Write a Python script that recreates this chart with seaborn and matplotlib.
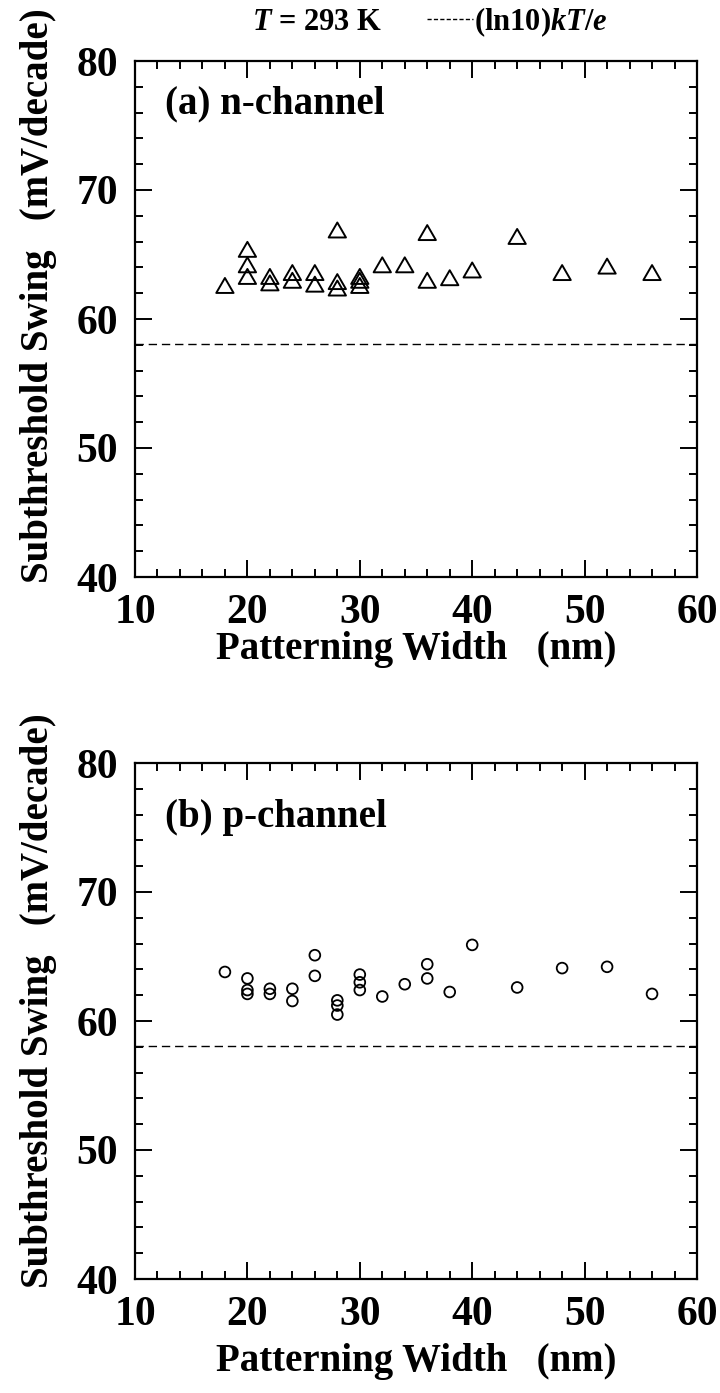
import matplotlib
matplotlib.use("Agg")
import matplotlib.pyplot as plt
import numpy as np
import pandas as pd
import seaborn as sns
from matplotlib.ticker import MultipleLocator
from matplotlib.lines import Line2D
from matplotlib.path import Path

# ---- data ----
n_width = [18, 20, 20, 20, 22, 22, 24, 24, 26, 26, 28, 28, 28, 30, 30, 30,
           32, 34, 36, 36, 38, 40, 44, 48, 52, 56]
n_swing = [62.6, 65.4, 64.2, 63.3, 63.3, 62.8, 63.6, 63.0, 63.6, 62.7, 66.9, 62.9, 62.4,
           63.3, 63.0, 62.6, 64.2, 64.2, 66.7, 63.0, 63.2, 63.8, 66.4, 63.6, 64.1, 63.6]
p_width = [18, 20, 20, 20, 22, 22, 24, 24, 26, 26, 28, 28, 28, 30, 30, 30,
           32, 34, 36, 36, 38, 40, 44, 48, 52, 56]
p_swing = [63.8, 63.3, 62.4, 62.1, 62.5, 62.1, 62.5, 61.55, 65.1, 63.5, 61.6, 61.2, 60.5,
           63.6, 63.0, 62.4, 61.9, 62.85, 64.4, 63.3, 62.25, 65.9, 62.6, 64.1, 64.2, 62.1]
thermal_limit = 58.1  # (ln10)kT/e at T = 293 K, mV/decade
panel_labels = ["(a) n-channel", "(b) p-channel"]
xlabel = "Patterning Width   (nm)"
ylabel = "Subthreshold Swing   (mV/decade)"
x_ticks = [10, 20, 30, 40, 50, 60]
y_ticks = [40, 50, 60, 70, 80]

sns.set_style("ticks")
plt.rcParams["font.family"] = ["Liberation Serif", "DejaVu Serif"]
plt.rcParams["font.weight"] = "bold"
plt.rcParams["text.color"] = "black"
plt.rcParams["axes.labelcolor"] = "black"
plt.rcParams["xtick.color"] = "black"
plt.rcParams["ytick.color"] = "black"
plt.rcParams["mathtext.fontset"] = "custom"
plt.rcParams["mathtext.rm"] = "Liberation Serif:bold"
plt.rcParams["mathtext.it"] = "Liberation Serif:italic:bold"
plt.rcParams["mathtext.bf"] = "Liberation Serif:bold"

FS = 28
TFS = 30
fig = plt.figure(figsize=(7.2, 13.93), dpi=100)
W, H = 720, 1393
ax_top = fig.add_axes([135 / W, 1 - 577 / H, 562 / W, 516 / H])
ax_bot = fig.add_axes([135 / W, 1 - 1279 / H, 562 / W, 516 / H])

tri = Path([(-1, -0.866), (1, -0.866), (0, 0.866), (-1, -0.866)], closed=True)

df_n = pd.DataFrame({"width": n_width, "swing": n_swing})
df_p = pd.DataFrame({"width": p_width, "swing": p_swing})

sns.scatterplot(data=df_n, x="width", y="swing", ax=ax_top, marker=tri, s=155,
                facecolors="none", edgecolor="black", linewidth=1.4, zorder=3)
sns.scatterplot(data=df_p, x="width", y="swing", ax=ax_bot, marker="o", s=60,
                facecolors="none", edgecolor="black", linewidth=1.3, zorder=3)

for ax, lab, ly in [(ax_top, panel_labels[0], 0.917), (ax_bot, panel_labels[1], 0.895)]:
    ax.axhline(thermal_limit, color="black", lw=1.0, ls=(0, (6, 3.5)), zorder=2)
    ax.set_xlim(10, 60)
    ax.set_ylim(40, 80)
    ax.set_xticks(x_ticks)
    ax.set_yticks(y_ticks)
    ax.xaxis.set_minor_locator(MultipleLocator(2))
    ax.yaxis.set_minor_locator(MultipleLocator(2))
    ax.tick_params(which="both", direction="in", top=True, right=True,
                   color="black", labelcolor="black", width=1.4)
    ax.tick_params(which="major", length=12, labelsize=TFS, pad=12)
    ax.tick_params(axis="y", which="major", pad=12)
    ax.tick_params(which="minor", length=6)
    for sp in ax.spines.values():
        sp.set_linewidth(1.6)
        sp.set_color("black")
    ax.set_xlabel(xlabel, fontsize=FS, fontweight="bold", color="black")
    ax.set_ylabel(ylabel, fontsize=FS, fontweight="bold", color="black")
    for t in ax.get_xticklabels() + ax.get_yticklabels():
        t.set_fontweight("bold")
    ax.text(0.053, ly, lab, transform=ax.transAxes, fontsize=FS, fontweight="bold",
            ha="left", va="center", color="black")

ax_top.xaxis.set_label_coords(0.5, -0.141)
ax_bot.xaxis.set_label_coords(0.5, -0.160)
ax_top.yaxis.set_label_coords(-0.172, 0.546)
ax_bot.yaxis.set_label_coords(-0.172, 0.54)
for ax in (ax_top, ax_bot):
    ax.xaxis.label.set_va("center")
    ax.yaxis.label.set_va("center")

# header
fig.text(317 / W, 1 - 22 / H, r"$T$ = 293 K", fontsize=22, fontweight="bold",
         ha="center", va="center", color="black")
handle = Line2D([], [], color="black", lw=1.0, ls=(0, (3, 1.6)))
fig.legend([handle], [r"$\mathrm{(ln10)}kT/e$"], loc="center left",
           bbox_to_anchor=(0.593, 1 - 22 / H), frameon=False, fontsize=22,
           borderpad=0, borderaxespad=0, handlelength=1.5, handletextpad=0.05,
           labelcolor="black")

fig.savefig("out.png", dpi=100, facecolor="white")
